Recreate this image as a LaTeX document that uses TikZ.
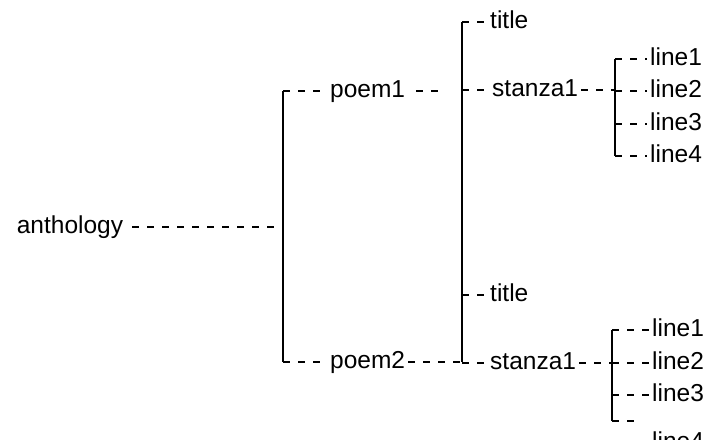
\documentclass[tikz,border=0pt]{standalone}
\usepackage{fontspec}
\setmainfont{Liberation Sans}
\usepackage{tikz}
\usetikzlibrary{positioning, calc}
\tikzset{
  % Node styles
  leafnode/.style={inner xsep=3pt, inner ysep=0pt, text height=17pt, text depth=5pt, font=\fontsize{24.5}{28}\selectfont, anchor=west},
  % Line styles
  trunk/.style={line width=1.9pt, black},
  twig/.style={line width=1.8pt, black, dash pattern=on 7pt off 8pt}
}
\begin{document}
\begin{tikzpicture}[x=1pt, y=-1pt]
  \path[use as bounding box, fill=white] (0,0) rectangle (709,439);

  % Root
  \node[leafnode, anchor=center] (anthology) at (70,227) {anthology};
  \coordinate (f1) at (283,227);

  % Poems
  \node[leafnode] (poem1) at (327,91) {poem1};
  \node[leafnode] (poem2) at (327,362) {poem2};
  \coordinate (f2) at (462,91);

  % Children of the poems
  \node[leafnode] (title1) at (487,22) {title};
  \node[leafnode] (stanza1) at (489,90) {stanza1};
  \node[leafnode] (title2) at (487,295) {title};
  \node[leafnode] (stanza2) at (487,363) {stanza1};
  \coordinate (f3) at (615,90);
  \coordinate (f4) at (612,363);

  % Lines of the first stanza
  \node[leafnode] (line11) at (647,59) {line1};
  \node[leafnode] (line12) at (647,91) {line2};
  \node[leafnode] (line13) at (647,124) {line3};
  \node[leafnode] (line14) at (647,156) {line4};

  % Lines of the second stanza
  \node[leafnode] (line21) at (649,330) {line1};
  \node[leafnode] (line22) at (649,363) {line2};
  \node[leafnode] (line23) at (649,395) {line3};
  \node[leafnode] (line24) at (649,443) {line4};
  \coordinate (l24) at (640,421);

  % Trunks
  \draw[trunk] (f1 |- poem1) -- (f1 |- poem2);
  \draw[trunk] (f2 |- title1) -- (f2 |- poem2);
  \draw[trunk] (f3 |- line11) -- (f3 |- line14);
  \draw[trunk] (f4 |- line21) -- (f4 |- l24);

  % Twigs
  \draw[twig, shorten <=6pt] (anthology.east) -- (f1);
  \draw[twig] (f1 |- poem1) -- (poem1.west);
  \draw[twig] (f1 |- poem2) -- (poem2.west);
  \draw[twig, shorten <=8pt, shorten >=16pt] (poem1.east) -- (f2 |- poem1);
  \draw[twig] (poem2.east) -- (f2 |- poem2);
  \draw[twig] (f2 |- title1) -- (title1.west);
  \draw[twig] (f2 |- stanza1) -- (stanza1.west);
  \draw[twig] (f2 |- title2) -- (title2.west);
  \draw[twig] (f2 |- stanza2) -- (stanza2.west);
  \draw[twig] (stanza1.east) -- (f3);
  \draw[twig] (stanza2.east) -- (f4);
  \draw[twig] (f3 |- line11) -- (line11.west);
  \draw[twig] (f3 |- line12) -- (line12.west);
  \draw[twig] (f3 |- line13) -- (line13.west);
  \draw[twig] (f3 |- line14) -- (line14.west);
  \draw[twig] (f4 |- line21) -- (line21.west);
  \draw[twig] (f4 |- line22) -- (line22.west);
  \draw[twig] (f4 |- line23) -- (line23.west);
  \draw[twig] (f4 |- l24) -- (l24);
\end{tikzpicture}
\end{document}
